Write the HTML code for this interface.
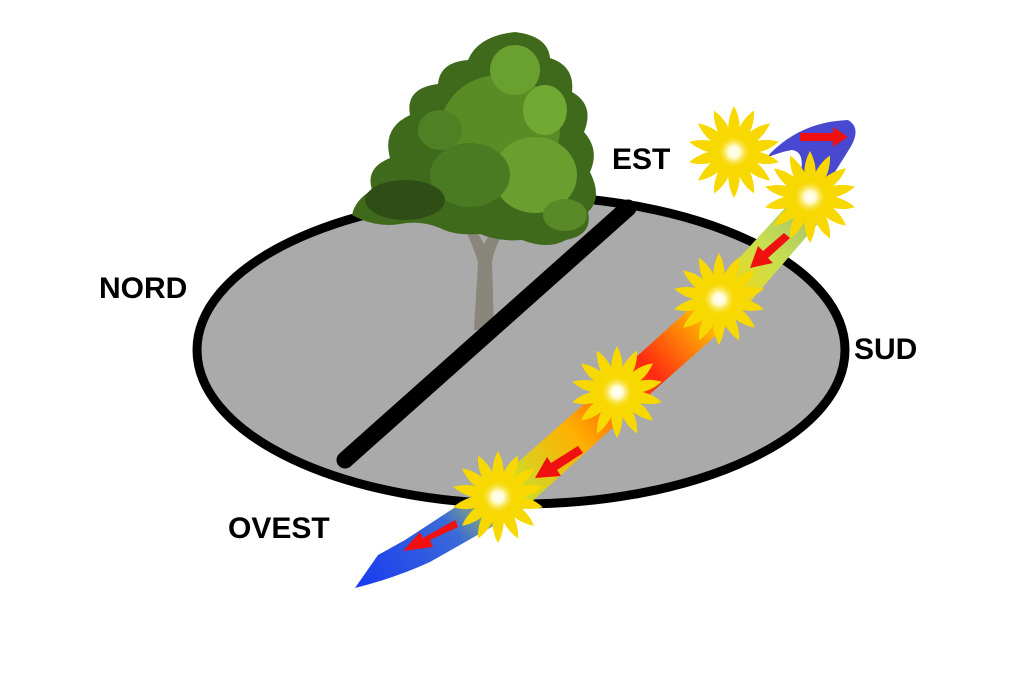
<!DOCTYPE html>
<html><head><meta charset="utf-8"><style>
html,body{margin:0;padding:0;background:#fff;width:1024px;height:698px;overflow:hidden}
svg{display:block}
text{font-family:"Liberation Sans",Arial,sans-serif;font-weight:bold;font-size:30px;fill:#000}
</style></head><body>
<svg width="1024" height="698" viewBox="0 0 1024 698" xmlns="http://www.w3.org/2000/svg">
<defs>
<radialGradient id="core"><stop offset="0" stop-color="#fff"/><stop offset="0.35" stop-color="#fffbd0"/><stop offset="1" stop-color="#f7d800" stop-opacity="0"/></radialGradient>
<linearGradient id="band" gradientUnits="userSpaceOnUse" x1="360" y1="585" x2="830" y2="180">
<stop offset="0" stop-color="#1a3cf0"/><stop offset="0.17" stop-color="#3a6ad8"/><stop offset="0.28" stop-color="#c8e030"/><stop offset="0.42" stop-color="#ffb000"/><stop offset="0.58" stop-color="#ff2a10"/><stop offset="0.72" stop-color="#ffd000"/><stop offset="0.85" stop-color="#c8e050"/><stop offset="1" stop-color="#90b080"/>
</linearGradient>
<path id="pt" d="M0 -46 Q9 -30 4 -8 L-4 -8 Q-9 -30 0 -46 Z"/>
<g id="sun">
<g fill="#f7d800">
<use href="#pt"/><use href="#pt" transform="rotate(25.7)"/><use href="#pt" transform="rotate(51.4)"/><use href="#pt" transform="rotate(77.1)"/><use href="#pt" transform="rotate(102.8)"/><use href="#pt" transform="rotate(128.5)"/><use href="#pt" transform="rotate(154.2)"/><use href="#pt" transform="rotate(180)"/><use href="#pt" transform="rotate(205.7)"/><use href="#pt" transform="rotate(231.4)"/><use href="#pt" transform="rotate(257.1)"/><use href="#pt" transform="rotate(282.8)"/><use href="#pt" transform="rotate(308.5)"/><use href="#pt" transform="rotate(334.2)"/>
<circle r="13"/>
</g>
<circle r="17" fill="url(#core)"/>
</g>
</defs>

<ellipse cx="521" cy="350" rx="324" ry="154" fill="#aaaaaa" stroke="#000" stroke-width="9"/>

<path d="M474 330 L478 262 Q470 236 460 222 L468 218 Q480 236 484 244 Q492 228 505 214 L512 220 Q496 240 492 262 L494 330 Z" fill="#8a867c"/>
<g>
<path d="M352 215 Q355 200 372 190 Q365 168 390 158 Q382 128 410 115 Q405 88 438 84 Q440 62 468 60 Q478 36 515 32 Q548 36 550 58 Q575 66 572 92 Q595 105 584 132 Q600 150 590 172 Q603 198 588 212 Q593 235 566 240 Q548 250 522 240 Q500 242 480 234 Q455 236 440 228 Q420 220 400 224 Q375 228 352 215 Z" fill="#3f6a1c"/>
<ellipse cx="500" cy="130" rx="60" ry="55" fill="#5a8c26"/>
<ellipse cx="535" cy="175" rx="42" ry="38" fill="#6a9e2e"/>
<ellipse cx="470" cy="175" rx="40" ry="32" fill="#4a7a22"/>
<ellipse cx="515" cy="70" rx="25" ry="25" fill="#6aa030"/>
<ellipse cx="405" cy="200" rx="40" ry="20" fill="#2f4e16"/>
<ellipse cx="565" cy="215" rx="22" ry="16" fill="#5a8a28"/>
<ellipse cx="545" cy="110" rx="22" ry="25" fill="#72a834"/>
<ellipse cx="440" cy="130" rx="22" ry="20" fill="#4f8024"/>
</g>

<line x1="345" y1="460" x2="628" y2="208" stroke="#000" stroke-width="17" stroke-linecap="round"/>

<path d="M355 588 L378 555 L405 540 L500 478 L602 388 L708 292 L796 196 L826 214 L738 316 L632 410 L525 508 L430 562 Q395 578 355 588 Z" fill="url(#band)"/>
<path d="M766 158 Q798 122 848 120 Q862 128 850 148 Q835 172 822 192 L800 176 Q806 152 792 150 Q780 152 766 158 Z" fill="#4848d0"/>

<g fill="#f01010">
<path d="M800 133 L833 133 L833 127 L848 137 L833 147 L833 141 L800 141 Z"/>
<path d="M784 233 L790 238 L768 258 L773 263 L750 268 L758 246 L763 251 Z"/>
<path d="M578 446 L583 453 L557 470 L561 476 L535 478 L547 457 L551 463 Z"/>
<path d="M455 520 L458 527 L430 540 L433 547 L403 551 L420 532 L423 538 Z"/>
</g>

<use href="#sun" x="734" y="152"/>
<use href="#sun" x="810" y="197"/>
<use href="#sun" x="719" y="299"/>
<use href="#sun" x="617" y="392"/>
<use href="#sun" x="498" y="497"/>

<text x="99" y="298">NORD</text>
<text x="612" y="169">EST</text>
<text x="854" y="359">SUD</text>
<text x="228" y="538">OVEST</text>
</svg>
</body></html>
